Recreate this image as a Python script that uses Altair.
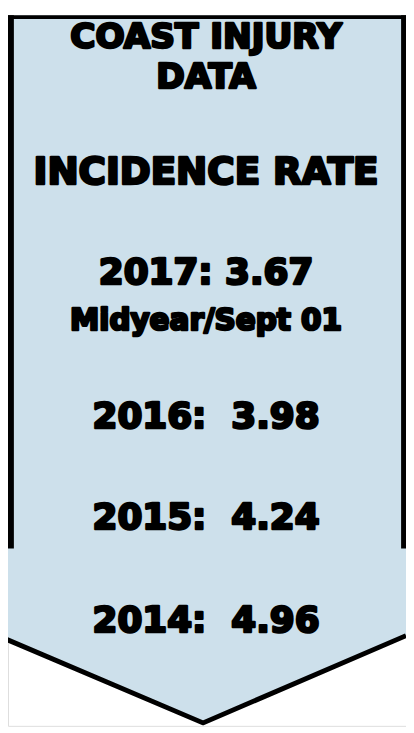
import altair as alt
import pandas as pd

# ---- content ----
title_lines = ["COAST INJURY", "DATA", "INCIDENCE RATE"]
years = ["2017", "2016", "2015", "2014"]
rates = ["3.67", "3.98", "4.24", "4.96"]
note_2017 = "Midyear/Sept 01"

# ---- layout (page pixel units; the page has an 8px margin) ----
X0, X1, Y0, Y1 = 8, 414, 8, 733
outline_x = [0, 207, 414]          # arrow bottom edge x
outline_y = [642, 730, 641]        # arrow bottom edge y
side_bottom = 552                  # where the side borders stop
text_cx = 210
title_base = [42, 82, 180]
title_size = [35, 35, 38]
rate_base = [282, 429, 532, 637]
rate_size = 36.5
note_base = 329
note_size = 30
TEXT_STROKE = 2.6

FILL = "#cde0eb"
FONT = "DejaVu Sans"

W, H = X1 - X0, Y1 - Y0
xs = alt.Scale(domain=[X0, X1], range=[0, W], nice=False, zero=False)
ys = alt.Scale(domain=[Y0, Y1], range=[0, H], nice=False, zero=False)

# arrow body
body = pd.DataFrame({"x": outline_x, "y": outline_y, "top": [Y0] * 3})
area = alt.Chart(body).mark_area(color=FILL, opacity=1, clip=True).encode(
    x=alt.X("x:Q", scale=xs, axis=None),
    y=alt.Y("y:Q", scale=ys, axis=None),
    y2="top:Q",
)

bottom_edge = alt.Chart(body).mark_line(
    color="black", strokeWidth=5, strokeJoin="miter", clip=True
).encode(
    x=alt.X("x:Q", scale=xs, axis=None),
    y=alt.Y("y:Q", scale=ys, axis=None),
)

sides = pd.DataFrame({"x": [11, 411.5], "y": [Y0, Y0], "y2": [side_bottom, side_bottom], "w": [6, 5]})
side_rules = alt.Chart(sides).mark_rule(color="black").encode(
    x=alt.X("x:Q", scale=xs, axis=None),
    y=alt.Y("y:Q", scale=ys, axis=None),
    y2="y2:Q",
    strokeWidth=alt.StrokeWidth("w:Q", scale=None, legend=None),
)
top = pd.DataFrame({"x": [X0], "x2": [X1], "y": [Y0 + 2]})
top_rule = alt.Chart(top).mark_rule(color="black", strokeWidth=4).encode(
    x=alt.X("x:Q", scale=xs, axis=None),
    x2="x2:Q",
    y=alt.Y("y:Q", scale=ys, axis=None),
)

# text
labels = list(title_lines)
bases = list(title_base)
sizes = list(title_size)
for i, (yr, rt) in enumerate(zip(years, rates)):
    sep = ": " if i == 0 else ":\u00a0 "
    labels.append(yr + sep + rt)
    bases.append(rate_base[i])
    sizes.append(rate_size)
    if i == 0:
        labels.append(note_2017)
        bases.append(note_base)
        sizes.append(note_size)

txt = pd.DataFrame({"label": labels, "x": [text_cx] * len(labels), "y": bases, "s": sizes})
text = alt.Chart(txt).mark_text(
    font=FONT, fontWeight="bold", color="black", align="center", baseline="alphabetic",
    stroke="black", strokeWidth=TEXT_STROKE, strokeJoin="round"
).encode(
    x=alt.X("x:Q", scale=xs, axis=None),
    y=alt.Y("y:Q", scale=ys, axis=None),
    text="label:N",
    size=alt.Size("s:Q", scale=None, legend=None),
)

chart = alt.layer(area, bottom_edge, side_rules, top_rule, text).properties(
    width=W, height=H, autosize=alt.AutoSizeParams(type="none"), padding=0
).configure_view(stroke=None).configure(background="white")

chart.save("out.html", embed_options={"renderer": "svg", "actions": False})
